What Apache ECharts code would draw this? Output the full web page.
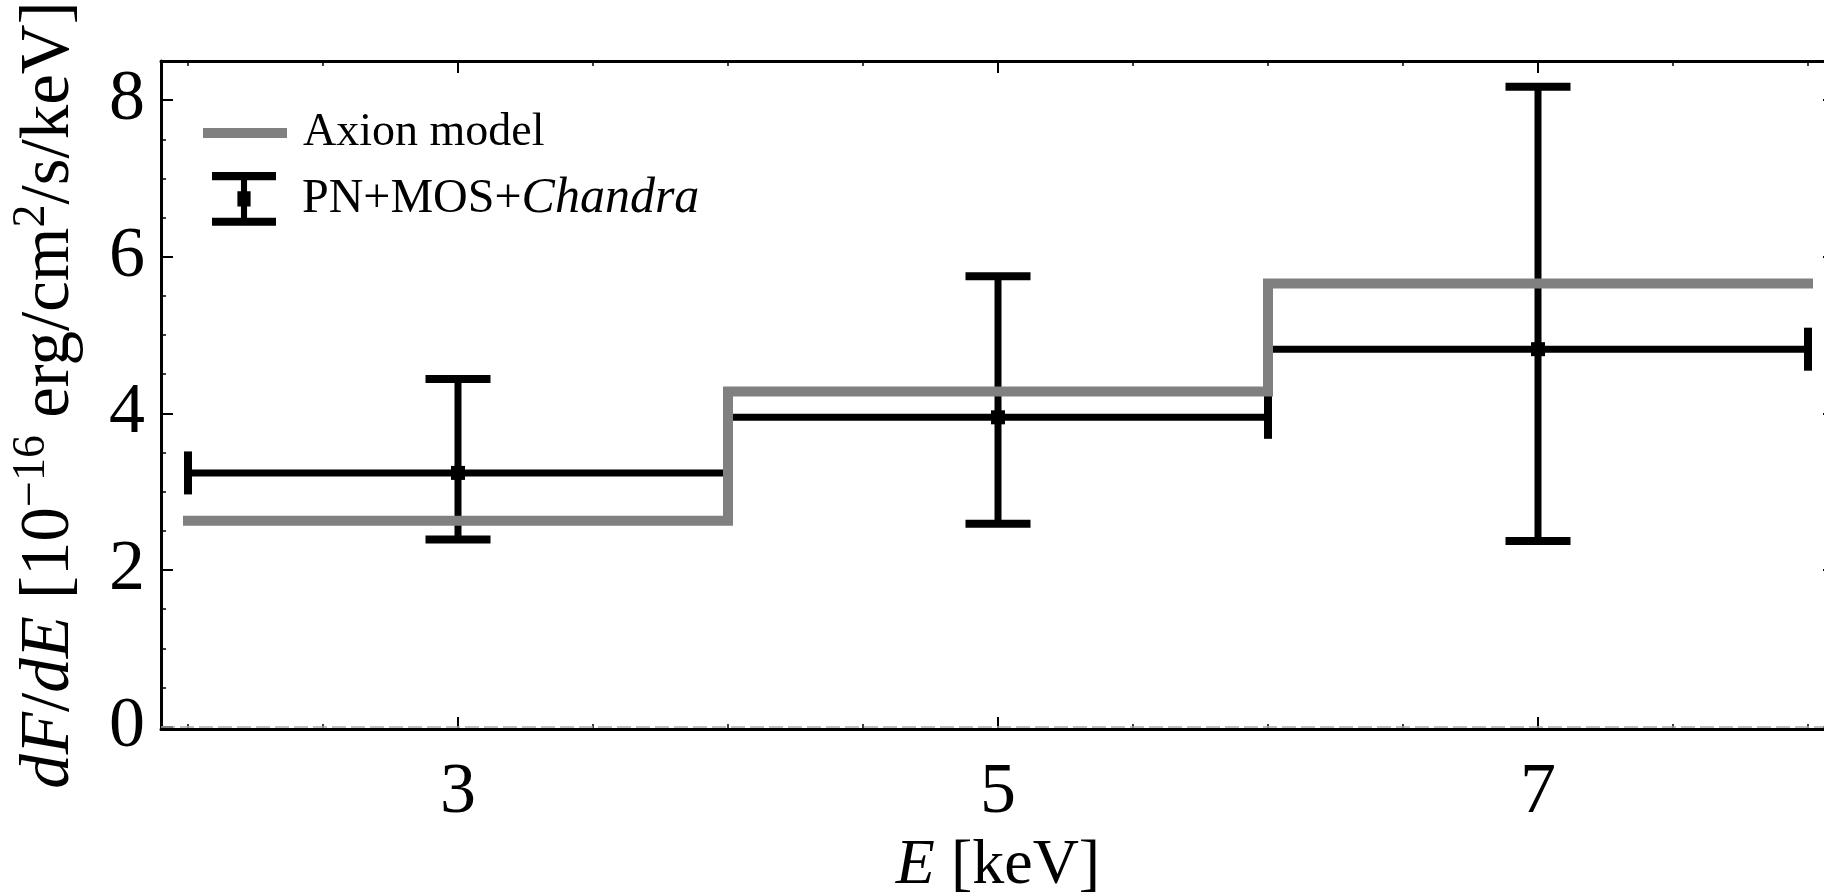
<!DOCTYPE html>
<html>
<head>
<meta charset="utf-8">
<script src="https://cdn.jsdelivr.net/npm/echarts@6/dist/echarts.min.js"></script>
<style>
html,body{margin:0;padding:0;background:#fff;}
#chart{width:1824px;height:895px;}
</style>
</head>
<body>
<div id="chart"></div>
<script>
// ---- data ----
const energyCenters = [3, 5, 7];
const energyLow = [2, 4, 6];
const energyHigh = [4, 6, 8];
const fluxValues = [3.24, 3.95, 4.82];
const fluxLow = [2.39, 2.59, 2.37];
const fluxHigh = [4.44, 5.75, 8.17];

const modelEdges = [2, 4, 6, 8];
const modelValues = [2.63, 4.28, 5.66, 5.66];

const xMajorTicks = [3, 5, 7];
const xMinorTicks = [2, 2.5, 3, 3.5, 4, 4.5, 5, 5.5, 6, 6.5, 7, 7.5, 8];
const yMajorTicks = [0, 2, 4, 6, 8];
const yMinorTicks = [0, 0.5, 1, 1.5, 2, 2.5, 3, 3.5, 4, 4.5, 5, 5.5, 6, 6.5, 7, 7.5, 8];

const seriesNames = ['Axion model', 'PN+MOS+Chandra'];

// ---- build ----
const FONT = 'Liberation Serif';
const X_MIN = 1.9, X_MAX = 8.1, Y_MIN = -0.03, Y_MAX = 8.5;

const modelData = modelEdges.map((e, i) => [e, modelValues[i]]);
const obsData = energyCenters.map((e, i) => [e, fluxValues[i], energyLow[i], energyHigh[i], fluxLow[i], fluxHigh[i]]);

function isX(pos) { return pos === 'bottom' || pos === 'top'; }
function majorAxis(pos, showLine, showLabel, ticks) {
  return {
    type: 'value', position: pos,
    min: isX(pos) ? X_MIN : Y_MIN, max: isX(pos) ? X_MAX : Y_MAX,
    axisLine: { show: showLine, onZero: false, lineStyle: { color: '#000', width: 3 } },
    axisTick: { show: true, inside: true, length: 12, customValues: ticks, lineStyle: { color: '#000', width: 2 } },
    axisLabel: { show: showLabel, customValues: ticks, color: '#000', fontFamily: FONT, fontSize: 72 },
    splitLine: { show: false }
  };
}
function minorAxis(pos, ticks) {
  return {
    type: 'value', position: pos,
    min: isX(pos) ? X_MIN : Y_MIN, max: isX(pos) ? X_MAX : Y_MAX,
    axisLine: { show: false, onZero: false },
    axisTick: { show: true, inside: true, length: 5, customValues: ticks, lineStyle: { color: '#000', width: 1.5 } },
    axisLabel: { show: false },
    splitLine: { show: false }
  };
}

const xMain = majorAxis('bottom', true, true, xMajorTicks);
xMain.axisLabel.margin = 28;
xMain.name = '{i|E} [keV]';
xMain.nameLocation = 'middle';
xMain.nameGap = 94;
xMain.nameTextStyle = { color: '#000', fontFamily: FONT, fontSize: 64,
  rich: { i: { fontStyle: 'italic', fontFamily: FONT, fontSize: 64, color: '#000' } } };

const yMain = majorAxis('left', true, true, yMajorTicks);
yMain.axisLabel.margin = 16;
yMain.name = '{i|dF}/{i|dE} [10{s|\u221216} erg/cm{s|2}/s/keV]';
yMain.nameLocation = 'middle';
yMain.nameRotate = 90;
yMain.nameGap = 70;
yMain.nameTextStyle = { color: '#000', fontFamily: FONT, fontSize: 69, lineHeight: 82,
  padding: [0, 0, 0, 0],
  rich: {
    i: { fontStyle: 'italic', fontFamily: FONT, fontSize: 69, lineHeight: 82, color: '#000' },
    s: { fontFamily: FONT, fontSize: 46, lineHeight: 46, verticalAlign: 'top', color: '#000' }
  } };

const option = {
  animation: false,
  backgroundColor: '#fff',
  grid: { left: 161, top: 61, width: 1674, height: 668, containLabel: false, outerBoundsMode: 'none' },
  xAxis: [xMain, minorAxis('bottom', xMinorTicks),
          majorAxis('top', true, false, xMajorTicks), minorAxis('top', xMinorTicks)],
  yAxis: [yMain, minorAxis('left', yMinorTicks),
          majorAxis('right', true, false, yMajorTicks), minorAxis('right', yMinorTicks)],
  legend: [
    {
      data: [{ name: seriesNames[0], icon: 'rect' }],
      left: 198, top: 103, itemWidth: 84, itemHeight: 10,
      selectedMode: false, itemStyle: { borderWidth: 0 },
      textStyle: { fontFamily: FONT, fontSize: 46, color: '#000', lineHeight: 50, padding: [0, 0, 0, 11] }
    },
    {
      data: [{ name: seriesNames[1],
        icon: 'path://M0,0 H63 V8 H34.5 V19 H38 V34 H34.5 V45 H63 V53 H0 V45 H28.5 V34 H25 V19 H28.5 V8 H0 Z' }],
      left: 207, top: 167, itemWidth: 64, itemHeight: 54,
      selectedMode: false, itemStyle: { borderWidth: 0 },
      formatter: function () { return '{n|PN+MOS+}{i|Chandra}'; },
      textStyle: { fontFamily: FONT, fontSize: 48, color: '#000', padding: [0, 0, 0, 21],
        rich: { n: { fontFamily: FONT, fontSize: 48, color: '#000' },
                i: { fontFamily: FONT, fontSize: 50, fontStyle: 'italic', color: '#000' } } }
    }
  ],
  series: [
    {
      name: seriesNames[1],
      type: 'custom',
      xAxisIndex: 0, yAxisIndex: 0,
      z: 2,
      itemStyle: { color: '#000' },
      encode: { x: [0, 2, 3], y: [1, 4, 5] },
      data: obsData,
      renderItem: function (params, api) {
        const x = api.value(0), y = api.value(1);
        const c = api.coord([x, y]);
        const pl = api.coord([api.value(2), y]);
        const ph = api.coord([api.value(3), y]);
        const pb = api.coord([x, api.value(4)]);
        const pt = api.coord([x, api.value(5)]);
        const capW = 65, capH = 43, lw = 7, capT = 8, m = 14;
        const st = { stroke: '#000', lineWidth: lw, fill: null };
        const cs = { stroke: '#000', lineWidth: capT, fill: null };
        return {
          type: 'group',
          children: [
            { type: 'line', shape: { x1: pl[0], y1: c[1], x2: ph[0], y2: c[1] }, style: st },
            { type: 'line', shape: { x1: c[0], y1: pb[1], x2: c[0], y2: pt[1] }, style: st },
            { type: 'line', shape: { x1: c[0] - capW / 2, y1: pt[1], x2: c[0] + capW / 2, y2: pt[1] }, style: cs },
            { type: 'line', shape: { x1: c[0] - capW / 2, y1: pb[1], x2: c[0] + capW / 2, y2: pb[1] }, style: cs },
            { type: 'line', shape: { x1: pl[0], y1: c[1] - capH / 2, x2: pl[0], y2: c[1] + capH / 2 }, style: cs },
            { type: 'line', shape: { x1: ph[0], y1: c[1] - capH / 2, x2: ph[0], y2: c[1] + capH / 2 }, style: cs },
            { type: 'rect', shape: { x: c[0] - m / 2, y: c[1] - m / 2, width: m, height: m }, style: { fill: '#000' } }
          ]
        };
      }
    },
    {
      name: seriesNames[0],
      type: 'line',
      xAxisIndex: 0, yAxisIndex: 0,
      z: 3,
      step: 'end',
      symbol: 'none',
      data: modelData,
      itemStyle: { color: '#808080' },
      lineStyle: { color: '#808080', width: 10, cap: 'square', join: 'miter' },
      markLine: {
        silent: true, symbol: 'none', label: { show: false },
        lineStyle: { color: '#aaaaaa', type: [14, 5], width: 1.5 },
        data: [{ yAxis: 0 }]
      }
    }
  ]
};

const chart = echarts.init(document.getElementById('chart'), null, { renderer: 'canvas' });
chart.setOption(option);
</script>
</body>
</html>
